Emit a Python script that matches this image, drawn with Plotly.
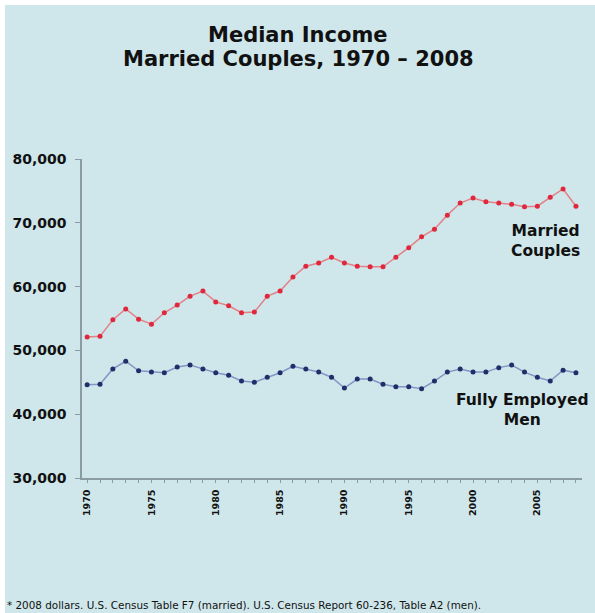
import plotly.graph_objects as go

# Median income (2008 dollars), 1970-2008
years = list(range(1970, 2009))
married_couples = [
    52100, 52200, 54800, 56500, 54900, 54100, 55900, 57100, 58500, 59300,
    57600, 57000, 55900, 56000, 58500, 59300, 61500, 63200, 63700, 64600,
    63700, 63200, 63100, 63100, 64600, 66100, 67800, 69000, 71200, 73100,
    73900, 73300, 73100, 72900, 72500, 72600, 74000, 75300, 72600,
]
fully_employed_men = [
    44600, 44700, 47100, 48300, 46800, 46600, 46500, 47400, 47700, 47100,
    46500, 46100, 45200, 45000, 45800, 46500, 47500, 47100, 46600, 45800,
    44100, 45500, 45500, 44700, 44300, 44300, 44000, 45200, 46600, 47100,
    46600, 46600, 47300, 47700, 46600, 45800, 45200, 46900, 46500,
]
x_tick_years = [1970, 1975, 1980, 1985, 1990, 1995, 2000, 2005]
y_tick_values = [30000, 40000, 50000, 60000, 70000, 80000]

W, H = 595, 613
PLOT_L, PLOT_R, PLOT_T, PLOT_B = 82, 582, 159, 478
BG = "#cfe7eb"
AXIS = "#8a9ba2"
FONT = "DejaVu Sans"


def px_x(px):
    return (px - PLOT_L) / (PLOT_R - PLOT_L)


def px_y(py):
    return (PLOT_B - py) / (PLOT_B - PLOT_T)


fig = go.Figure()
fig.add_trace(go.Scatter(
    x=years, y=married_couples, mode="lines+markers", name="Married Couples",
    line=dict(color="#e38088", width=1.5),
    marker=dict(color="#e0283c", size=5),
))
fig.add_trace(go.Scatter(
    x=years, y=fully_employed_men, mode="lines+markers", name="Fully Employed Men",
    line=dict(color="#8197c4", width=1.5),
    marker=dict(color="#1f2f6a", size=5),
))

# light panel with a thin white edge at the top and left
fig.add_shape(type="rect", xref="paper", yref="paper", layer="below",
              x0=px_x(5), x1=px_x(W + 5), y0=px_y(H + 5), y1=px_y(5),
              fillcolor=BG, line=dict(width=0))

annos = [
    dict(text="<b>Median Income</b>", x=px_x(298), y=px_y(35), size=21),
    dict(text="<b>Married Couples, 1970 – 2008</b>", x=px_x(298), y=px_y(59), size=21),
    dict(text="<b>Married<br>Couples</b>", x=px_x(545), y=px_y(241), size=15.5),
    dict(text="<b>Fully Employed<br>Men</b>", x=px_x(522), y=px_y(410), size=15.5),
]
for a in annos:
    fig.add_annotation(text=a["text"], x=a["x"], y=a["y"], xref="paper", yref="paper",
                       xanchor="center", yanchor="middle", showarrow=False,
                       font=dict(family=FONT, size=a["size"], color="#111111"))

fig.add_annotation(
    text="* 2008 dollars. U.S. Census Table F7 (married). U.S. Census Report 60-236, Table A2 (men).",
    x=px_x(5), y=px_y(613), xref="paper", yref="paper", xanchor="left", yanchor="bottom",
    showarrow=False, font=dict(family=FONT, size=10.4, color="#111111"))

fig.update_xaxes(
    range=[1969.6, 2008.47], tickvals=x_tick_years, ticktext=[str(y) for y in x_tick_years],
    tickangle=-90, tickfont=dict(family=FONT, size=9.5, color="#111111", weight="bold"),
    ticklabelstandoff=3,
    showline=True, linecolor=AXIS, linewidth=1.5, ticks="outside", ticklen=3,
    tickcolor=AXIS, showgrid=False, zeroline=False,
    minor=dict(dtick=1, ticks="outside", ticklen=3, tickcolor=AXIS, showgrid=False),
)
fig.update_yaxes(
    range=[30000, 80000], tickvals=y_tick_values, tickformat=",d",
    tickfont=dict(family=FONT, size=14, color="#111111", weight="bold"),
    showline=True, linecolor=AXIS, linewidth=1.5, ticks="outside", ticklen=5,
    tickcolor=AXIS, ticklabelstandoff=6, showgrid=False, zeroline=False,
)
fig.update_layout(
    width=W, height=H, showlegend=False,
    margin=dict(l=PLOT_L, r=W - PLOT_R, t=PLOT_T, b=H - PLOT_B, pad=0),
    paper_bgcolor="white", plot_bgcolor="rgba(0,0,0,0)",
)
fig.write_html("out.html")
